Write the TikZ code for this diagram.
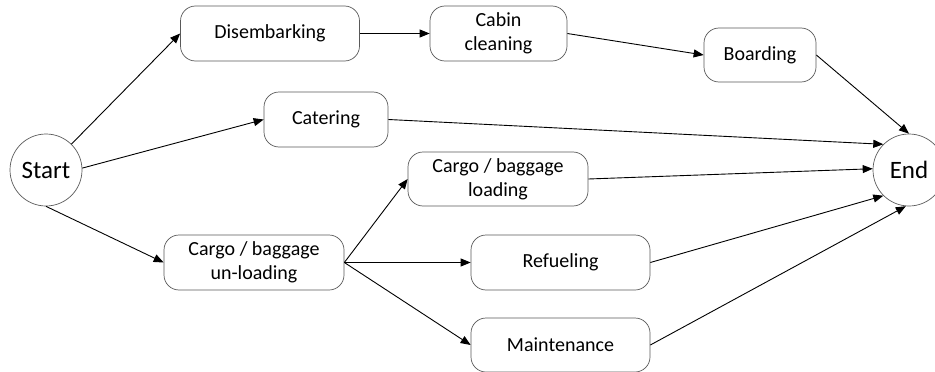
\documentclass[tikz,border=0pt]{standalone}
\usepackage{fontspec}
\setmainfont{Carlito}
\usetikzlibrary{arrows.meta,calc,positioning}

\tikzset{
	task/.style={draw=black!65, line width=0.7pt, rounded corners=15pt, minimum height=55pt, inner sep=0pt, align=center, font=\fontsize{20}{24}\selectfont},
	event/.style={draw=black!65, line width=0.7pt, circle, minimum size=72pt, inner sep=0pt, font=\fontsize{25}{30}\selectfont},
	flow/.style={-{Triangle[length=10pt,width=8pt]}, line width=0.9pt}
}

\begin{document}
\begin{tikzpicture}[x=1pt,y=-1pt]
				\clip (0,0) rectangle (935,372);
				\node[event] (start) at (46,170) {Start};
				\node[event] (stop) at (909,170) {End};
				\node[task, minimum width=179pt] (disemb) at (270,33.5) {Disembarking};
				\node[task, minimum width=137pt] (cabin) at (498.5,33.5) {Cabin\\cleaning};
				\node[task, minimum width=112pt, minimum height=54pt] (board) at (760,55) {Boarding};
				\node[task, minimum width=124pt] (cater) at (326,119.5) {Catering};
				\node[task, minimum width=180pt, minimum height=54pt] (load) at (498,179) {Cargo / baggage\\loading};
				\node[task, minimum width=180pt] (unload) at (254,262.5) {Cargo / baggage\\un-loading};
				\node[task, minimum width=179pt] (refuel) at (560.5,262.5) {Refueling};
				\node[task, minimum width=179pt, minimum height=54pt] (maint) at (560.5,345) {Maintenance};
				\draw[flow] (start) to (disemb.west);
				\draw[flow] (start.3) to (cater.west);
				\draw[flow] (start.south) to (unload.west);
				\draw[flow] (disemb.east) to (cabin.west);
				\draw[flow] (cabin.east) to (board.west);
				\draw[flow] (unload.east) to (load.west);
				\draw[flow] (unload.east) to (refuel.west);
				\draw[flow] (unload.east) to (maint.west);
				\draw[flow] (board.east) to (stop.north);
				\draw[flow] (cater.east) to (stop.135);
				\draw[flow] (load.east) to (stop.178);
				\draw[flow] (refuel.east) to (stop.225);
				\draw[flow] (maint.east) to (stop.265);
	\end{tikzpicture}
\end{document}
